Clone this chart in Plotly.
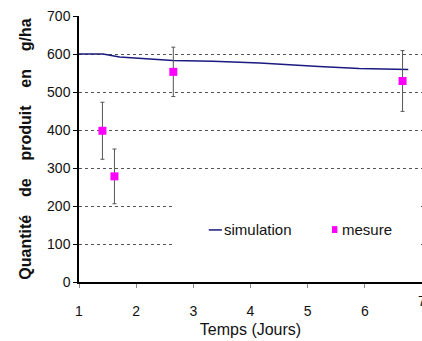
import plotly.graph_objects as go

# Simulation curve
sim_t = [1.0, 1.2, 1.42, 1.71, 2.0, 2.64, 3.34, 4.16, 5.2, 5.9, 6.76]
sim_q = [600, 600, 600, 592, 589, 583, 581, 576, 567, 562, 559]

# Measurements with error bars
mes_t = [1.41, 1.62, 2.65, 6.66]
mes_q = [398, 278, 553, 529]
mes_err = [75, 72, 65, 80]

x_ticks = [1, 2, 3, 4, 5, 6, 7]
y_ticks = [0, 100, 200, 300, 400, 500, 600, 700]

FONT = "Liberation Sans, Arial, sans-serif"
NB = "\u00a0" * 4

fig = go.Figure()
fig.add_trace(go.Scatter(
    x=sim_t, y=sim_q, mode="lines", name="simulation",
    line=dict(color="#1a1a80", width=1.5), showlegend=False))
fig.add_trace(go.Scatter(
    x=mes_t, y=mes_q, mode="markers", name="mesure",
    marker=dict(symbol="square", size=8, color="#ff00ff"),
    error_y=dict(type="data", array=mes_err, visible=True,
                 color="#555555", thickness=1, width=2),
    showlegend=False))

shapes = [
    # white legend box hiding gridlines
    dict(type="rect", xref="x", yref="y", x0=2.67, x1=6.95, y0=60, y1=250,
         fillcolor="white", line=dict(width=0), layer="above"),
    # legend line sample
    dict(type="line", xref="x", yref="y", x0=3.27, x1=3.50, y0=137, y1=137,
         line=dict(color="#1a1a80", width=1.5), layer="above"),
    # legend marker sample
    dict(type="rect", xref="x", yref="y", x0=5.425, x1=5.52, y0=129, y1=147,
         fillcolor="#ff00ff", line=dict(width=0), layer="above"),
]
annotations = [
    dict(x=3.51, y=137, xref="x", yref="y", text="simulation", showarrow=False,
         xanchor="left", yanchor="middle", font=dict(size=15, color="#111", family=FONT)),
    dict(x=5.56, y=137, xref="x", yref="y", text="mesure", showarrow=False,
         xanchor="left", yanchor="middle", font=dict(size=15, color="#111", family=FONT)),
    # last x tick label, partly cut at the right edge as in the original
    dict(x=x_ticks[-1], y=0, xref="x", yref="paper", text=str(x_ticks[-1]), showarrow=False,
         xanchor="center", yanchor="top", yshift=-9,
         font=dict(size=14, color="#111", family=FONT)),
]

fig.update_layout(
    width=422, height=341,
    margin=dict(l=79, r=0, t=16, b=59),
    paper_bgcolor="white", plot_bgcolor="white",
    font=dict(family=FONT, size=14, color="#111"),
    shapes=shapes, annotations=annotations,
    xaxis=dict(range=[1, 7], tickvals=x_ticks, showgrid=False, zeroline=False,
               showline=True, linecolor="black", linewidth=1.5,
               ticks="outside", ticklen=4, tickcolor="#888",
               ticklabelstandoff=11,
               title=dict(text="Temps (Jours)", font=dict(size=16), standoff=6)),
    yaxis=dict(range=[0, 700], tickvals=y_ticks, showgrid=True,
               gridcolor="#555555", griddash="dot", gridwidth=1, zeroline=False,
               showline=True, linecolor="black", linewidth=1.5,
               ticks="outside", ticklen=4, tickcolor="black",
               title=dict(text="<b>Quantité" + NB + "de" + NB + "produit" + NB + "en" + NB + "g/ha</b>",
                          font=dict(size=16), standoff=11)),
)

fig.write_html("out.html",
               config={"displayModeBar": False},
               post_script="document.body.style.margin='0px';document.body.style.padding='0px';")
